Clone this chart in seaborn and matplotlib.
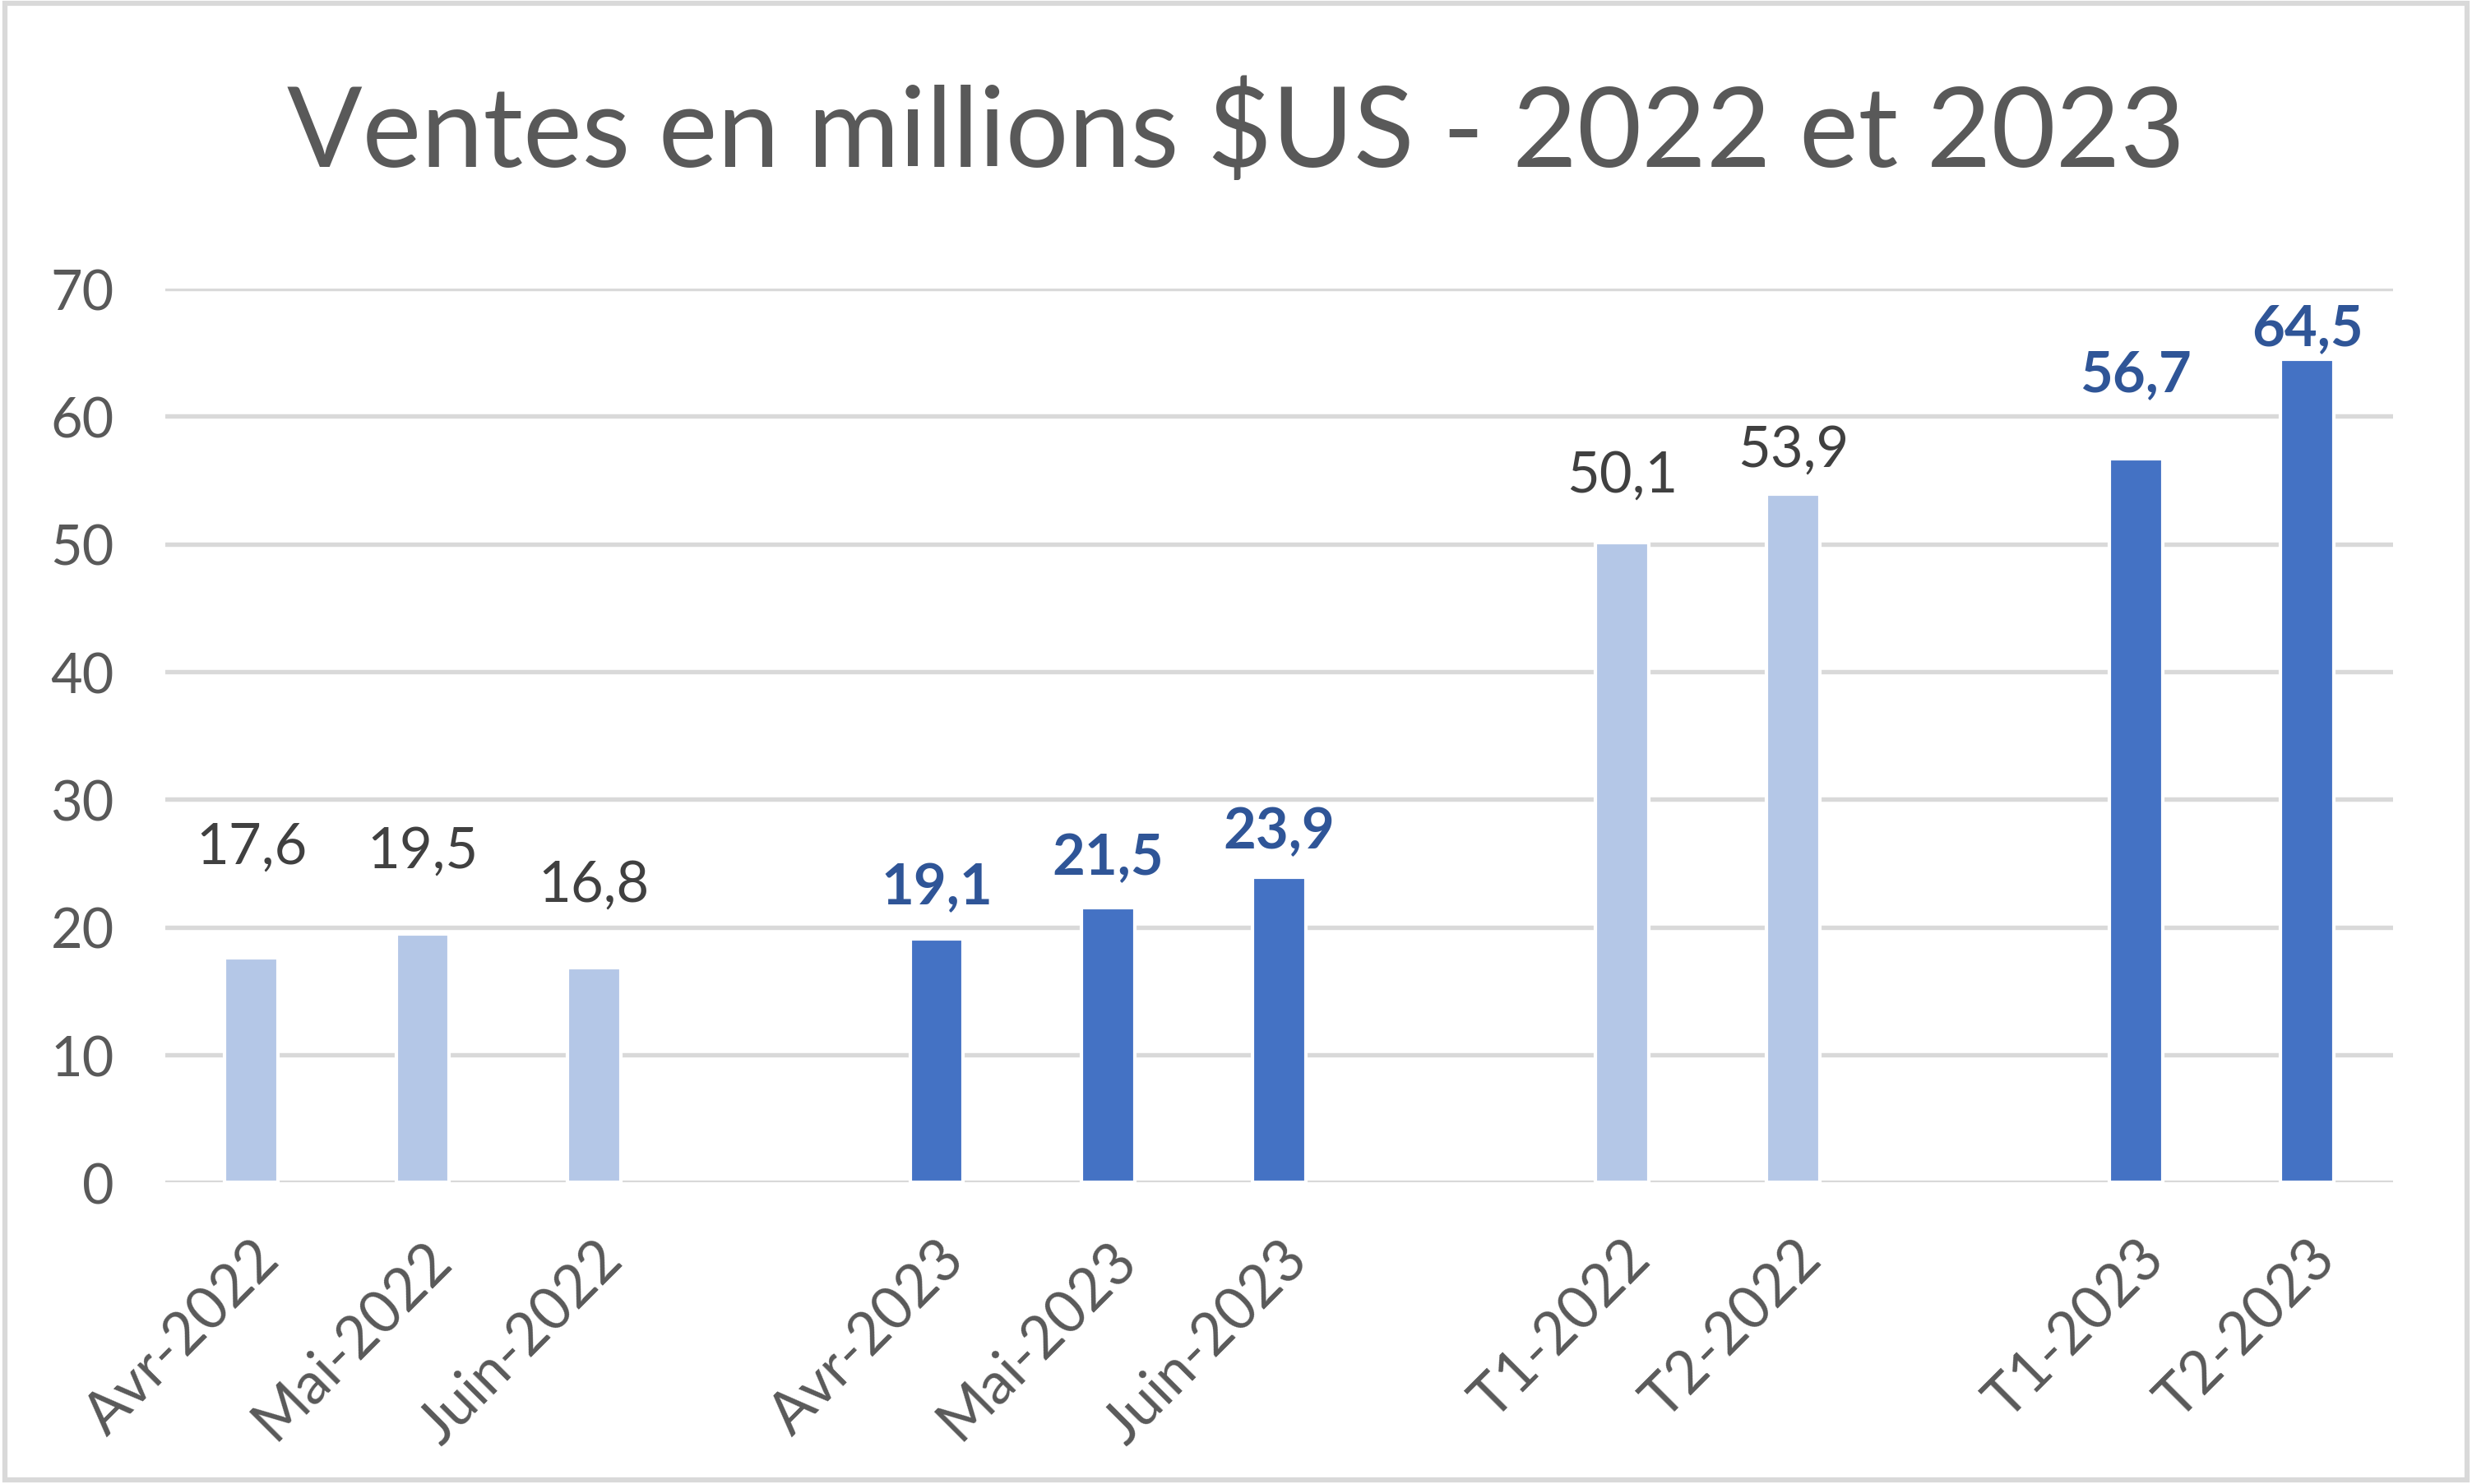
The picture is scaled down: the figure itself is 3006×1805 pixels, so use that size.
import pandas as pd
import matplotlib.pyplot as plt
import seaborn as sns
from matplotlib.patches import Rectangle

# --- data ---
months = ['Avr-2022', 'Mai-2022', 'Juin-2022',
          'Avr-2023', 'Mai-2023', 'Juin-2023',
          'T1-2022', 'T2-2022',
          'T1-2023', 'T2-2023']
sales = [17.6, 19.5, 16.8, 19.1, 21.5, 23.9, 50.1, 53.9, 56.7, 64.5]
years = ['2022', '2022', '2022', '2023', '2023', '2023', '2022', '2022', '2023', '2023']
# vertical lift of each data label above its bar (data units), as in the original
label_lift = [8.7, 6.5, 6.5, 4.0, 3.9, 3.6, 5.3, 3.5, 6.6, 2.4]

# empty categories leave the gaps between groups
order = ['Avr-2022', 'Mai-2022', 'Juin-2022', ' ',
         'Avr-2023', 'Mai-2023', 'Juin-2023', '  ',
         'T1-2022', 'T2-2022', '   ',
         'T1-2023', 'T2-2023']

bar_colors = {'2022': '#B4C7E7', '2023': '#4472C4'}
text_colors = {'2022': '#404040', '2023': '#2F5597'}

df = pd.DataFrame({'mois': months, 'ventes': sales, 'annee': years})

sns.set_theme(style='white')
plt.rcParams['font.family'] = ['Lato', 'DejaVu Sans']

fig = plt.figure(figsize=(10.02, 6.02), dpi=300)
ax = fig.add_axes([0.067, 0.203, 0.901, 0.602])

sns.barplot(data=df, x='mois', y='ventes', hue='annee', order=order,
            palette=bar_colors, dodge=False, width=0.31, legend=False,
            saturation=1, ax=ax)

ax.set_ylim(0, 70)
ax.set_yticks(range(0, 71, 10))
ax.set_xlim(-0.5, len(order) - 0.5)
ax.yaxis.grid(True, color='#D9D9D9', linewidth=1.3)
ax.set_axisbelow(True)
for s in ax.spines.values():
    s.set_visible(False)
ax.set_xlabel('')
ax.set_ylabel('')

ax.tick_params(axis='y', length=0, pad=15, labelsize=16, labelcolor='#595959')
ax.tick_params(axis='x', length=0, pad=14, labelsize=17, labelcolor='#595959')
ax.set_xticks(range(len(order)))
ax.set_xticklabels([o.strip() for o in order], rotation=45, ha='right',
                   rotation_mode='anchor')

for m, v, y, lift in zip(months, sales, years, label_lift):
    ax.text(order.index(m), v + lift, f'{v:.1f}'.replace('.', ','),
            ha='center', va='center', fontsize=16.5,
            color=text_colors[y],
            fontweight='bold' if y == '2023' else 'normal')

fig.text(0.5, 0.91, 'Ventes en millions $US - 2022 et 2023',
         ha='center', va='center', fontsize=32.5, color='#595959')

fig.patches.append(Rectangle((0.002, 0.003), 0.996, 0.994, transform=fig.transFigure,
                             fill=False, edgecolor='#D9D9D9', linewidth=1.5))

fig.savefig('out.png', dpi=300)
